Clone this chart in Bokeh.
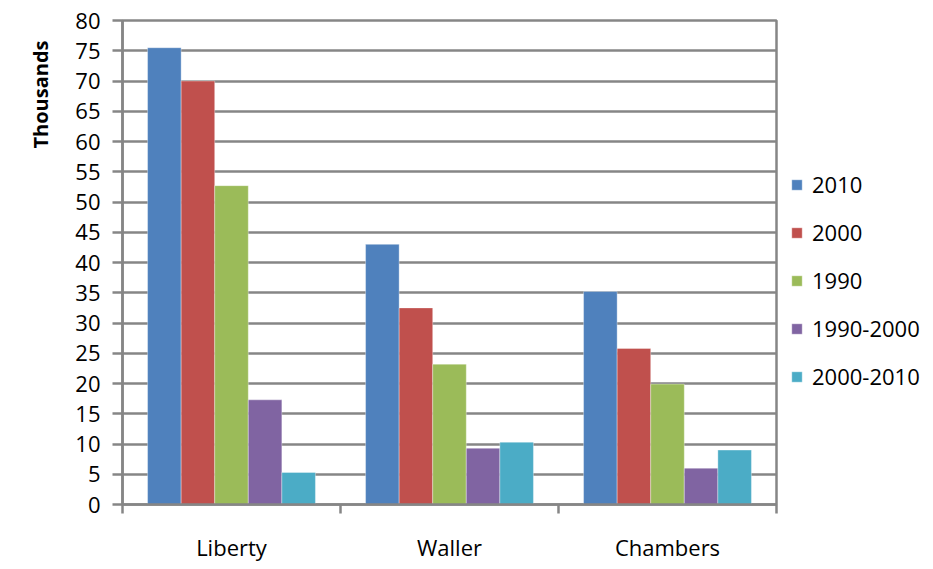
import numpy as np
from bokeh.plotting import figure
from bokeh.layouts import column
from bokeh.models import FixedTicker, Legend, LegendItem, Title, Range1d, ColumnDataSource, Div
from bokeh.embed import file_html
from bokeh.resources import INLINE

categories = ["Liberty", "Waller", "Chambers"]
series_names = ["2010", "2000", "1990", "1990-2000", "2000-2010"]
v2010 = [75.5, 43.0, 35.2]
v2000 = [70.0, 32.5, 25.8]
v1990 = [52.7, 23.2, 19.9]
v1990_2000 = [17.3, 9.3, 6.0]
v2000_2010 = [5.3, 10.3, 9.0]
y_ticks = list(range(0, 85, 5))

series_values = [v2010, v2000, v1990, v1990_2000, v2000_2010]
colors = ["#4F81BD", "#C0504D", "#9BBB59", "#8064A2", "#4BACC6"]
GRID = "#868686"
FONT = "Open Sans"

p = figure(frame_width=654, frame_height=484, output_backend="svg", toolbar_location=None,
           x_range=Range1d(0, len(categories)), y_range=Range1d(0, 80),
           min_border_left=122, min_border_right=141, min_border_top=20, min_border_bottom=58)

bw = 0.154
centers = np.arange(len(categories)) + 0.5
items = []
for i, (name, vals, col) in enumerate(zip(series_names, series_values, colors)):
    src = ColumnDataSource(dict(x=centers + (i - 2) * bw, top=vals))
    r = p.vbar(x="x", top="top", width=bw, source=src, fill_color=col,
               line_color="white", line_alpha=0.35, line_width=1)
    items.append(LegendItem(label=name, renderers=[r]))

# x axis
xa = p.xaxis[0]
xa.ticker = FixedTicker(ticks=list(centers), minor_ticks=list(range(len(categories) + 1)))
xa.major_label_overrides = {float(c): n for c, n in zip(centers, categories)}
xa.major_tick_out = 0
xa.major_tick_in = 0
xa.minor_tick_out = 9
xa.minor_tick_in = 0
xa.minor_tick_line_color = GRID
xa.minor_tick_line_width = 2.5
xa.axis_line_color = GRID
xa.axis_line_width = 2.5
xa.major_label_standoff = 18
xa.major_label_text_font = FONT
xa.major_label_text_font_size = "22px"
xa.major_label_text_color = "black"

# y axis
ya = p.yaxis[0]
ya.ticker = FixedTicker(ticks=y_ticks)
ya.major_tick_out = 10
ya.major_tick_in = 0
ya.minor_tick_line_color = None
ya.major_tick_line_color = GRID
ya.major_tick_line_width = 2.5
ya.axis_line_color = GRID
ya.axis_line_width = 2.5
ya.major_label_standoff = 12
ya.major_label_text_font = FONT
ya.major_label_text_font_size = "22px"
ya.major_label_text_color = "black"

p.xgrid.visible = False
p.ygrid.ticker = FixedTicker(ticks=y_ticks)
p.ygrid.grid_line_color = GRID
p.ygrid.grid_line_width = 2.5
p.outline_line_color = GRID
p.outline_line_width = 2.5
p.outline_line_alpha = 1

p.add_layout(Title(text="Thousands", align="right", offset=20, standoff=38,
                   text_font=FONT, text_font_size="20px", text_font_style="bold",
                   text_color="black"), "left")

leg = Legend(items=items, location=(14, 113), orientation="vertical",
             label_text_font=FONT, label_text_font_size="22px", label_text_color="black",
             glyph_width=13, glyph_height=13, label_height=20, label_standoff=9,
             spacing=18, padding=0, margin=0, border_line_color=None,
             background_fill_alpha=0)
p.add_layout(leg, "right")

sep = Div(text=f'<div style="height:2px;width:917px;background:{GRID};"></div>',
          width=917, height=2, margin=0)
layout = column(p, sep, spacing=0)

open("out.html", "w").write(file_html(layout, INLINE))
